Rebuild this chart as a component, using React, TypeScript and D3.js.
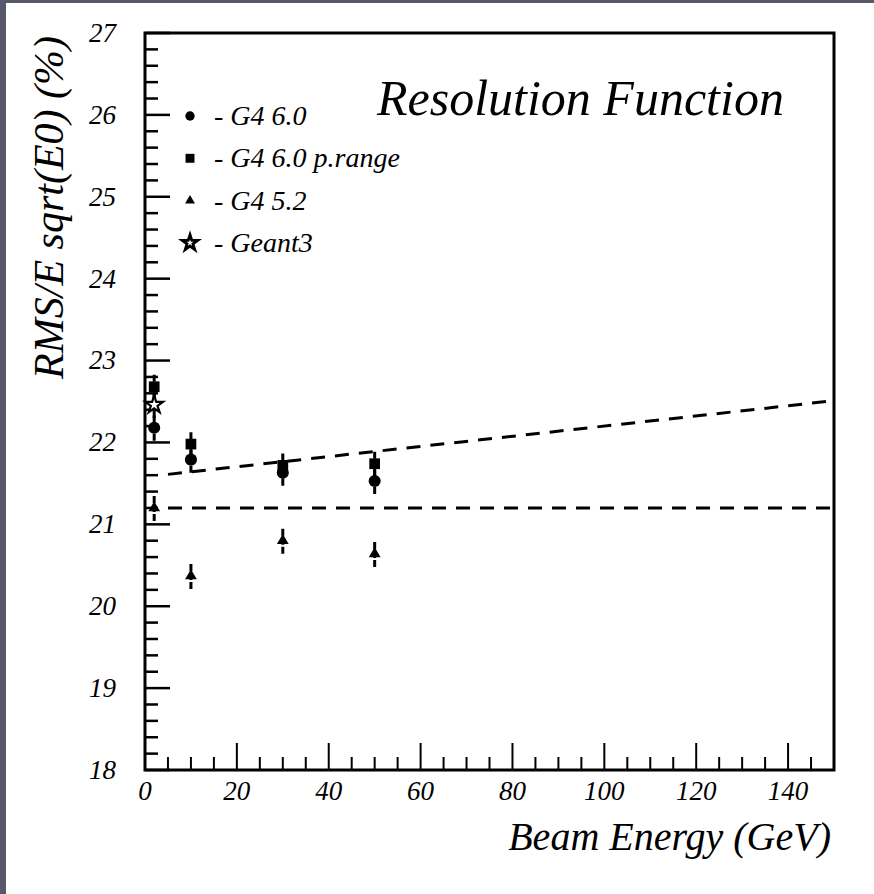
import React from "react";
import * as d3 from "d3";

const W = 874;
const H = 894;

// Data
const energies = [2, 10, 30, 50];
const g4v60 = [22.18, 21.79, 21.63, 21.53];
const g4v60pRange = [22.68, 21.98, 21.72, 21.74];
const g4v52 = [21.2, 20.37, 20.8, 20.64];
const geant3Energies = [2];
const geant3 = [22.46];
const errorSize = [0.16, 0.16, 0.16, 0.16];
const fitSlopedX = [5, 150];
const fitSlopedY = [21.61, 22.51];
const fitFlatX = [5, 150];
const fitFlatY = [21.2, 21.2];
const xTickLabels = [0, 20, 40, 60, 80, 100, 120, 140];
const yTickLabels = [18, 19, 20, 21, 22, 23, 24, 25, 26, 27];
const legendLabels = ["- G4 6.0", "- G4 6.0 p.range", "- G4 5.2", "- Geant3"];

const FONT = "serif";

export default function App() {
  const left = 145, right = 834, top = 33, bottom = 770;
  const x = d3.scaleLinear().domain([0, 150]).range([left, right]);
  const y = d3.scaleLinear().domain([18, 27]).range([bottom, top]);

  const xMinor = d3.range(0, 151, 5);
  const yMinor = d3.range(18, 27.001, 0.2);

  const circle = d3.symbol().type(d3.symbolCircle);
  const square = d3.symbol().type(d3.symbolSquare);
  const tri = d3.symbol().type(d3.symbolTriangle);
  const star = d3.symbol().type(d3.symbolStar);

  const series = [
    { vals: g4v60, sym: circle, size: 115 },
    { vals: g4v60pRange, sym: square, size: 115 },
    { vals: g4v52, sym: tri, size: 60 },
  ];

  const legendSyms = [
    { sym: circle, size: 70, fill: "#000" },
    { sym: square, size: 80, fill: "#000" },
    { sym: tri, size: 42, fill: "#000" },
    { sym: star, size: 75, fill: "#fff" },
  ];

  const slopedPath = d3.line<number>()
    .x((_, i) => x(fitSlopedX[i]))
    .y((d) => y(d))(fitSlopedY);
  const flatPath = d3.line<number>()
    .x((_, i) => x(fitFlatX[i]))
    .y((d) => y(d))(fitFlatY);

  const txt = { fontFamily: FONT, fontStyle: "italic" as const };

  return (
    <svg width={W} height={H} style={{ position: "absolute", left: 0, top: 0, display: "block", background: "#fff" }}>
      <rect x={0} y={0} width={W} height={H} fill="#fff" />
      <rect x={0} y={0} width={6} height={H} fill="#575869" />
      <rect x={0} y={0} width={W} height={3} fill="#575869" />

      {/* frame */}
      <rect x={left} y={top} width={right - left} height={bottom - top} fill="none" stroke="#000" strokeWidth={3} />

      {/* y ticks */}
      {yMinor.map((v, i) => {
        const major = Math.abs(v - Math.round(v)) < 1e-6;
        return (
          <line key={"yt" + i} x1={left} x2={left + (major ? 25 : 13)} y1={y(v)} y2={y(v)} stroke="#000" strokeWidth={2.5} />
        );
      })}
      {/* x ticks */}
      {xMinor.map((v, i) => {
        const major = v % 20 === 0;
        return (
          <line key={"xt" + i} x1={x(v)} x2={x(v)} y1={bottom} y2={bottom - (major ? 27 : 13)} stroke="#000" strokeWidth={2} />
        );
      })}

      {yTickLabels.map((v) => (
        <text key={"yl" + v} x={left - 29} y={y(v)} dy="0.33em" textAnchor="end" style={{ ...txt, fontSize: 27 }}>
          {v}
        </text>
      ))}
      {xTickLabels.map((v) => (
        <text key={"xl" + v} x={x(v)} y={800} textAnchor="middle" style={{ ...txt, fontSize: 27 }}>
          {v}
        </text>
      ))}

      {/* axis titles */}
      <text x={831} y={850} textAnchor="end" style={{ ...txt, fontSize: 40 }}>
        Beam Energy (GeV)
      </text>
      <text transform="translate(63,36) rotate(-90)" textAnchor="end" style={{ ...txt, fontSize: 42 }}>
        RMS/E sqrt(E0) (%)
      </text>

      <text x={377} y={115} style={{ ...txt, fontSize: 50 }}>
        Resolution Function
      </text>

      {/* fit lines */}
      <path d={slopedPath || ""} fill="none" stroke="#000" strokeWidth={3} strokeDasharray="14,10" />
      <path d={flatPath || ""} fill="none" stroke="#000" strokeWidth={3} strokeDasharray="14,10" />

      {/* error bars */}
      {series.map((s, si) =>
        energies.map((e, i) => (
          <line key={"eb" + si + "-" + i} x1={x(e)} x2={x(e)} y1={y(s.vals[i] - errorSize[i])} y2={y(s.vals[i] + errorSize[i])} stroke="#000" strokeWidth={3} strokeDasharray="7,2" />
        ))
      )}
      {geant3Energies.map((e, i) => (
        <line key={"ebg" + i} x1={x(e)} x2={x(e)} y1={y(geant3[i] - errorSize[i])} y2={y(geant3[i] + errorSize[i])} stroke="#000" strokeWidth={3} strokeDasharray="7,2" />
      ))}

      {/* markers */}
      {series.map((s, si) =>
        energies.map((e, i) => (
          <path key={"m" + si + "-" + i} d={s.sym.size(s.size)() || ""} transform={`translate(${x(e)},${y(s.vals[i])})`} fill="#000" />
        ))
      )}
      {geant3Energies.map((e, i) => (
        <path key={"st" + i} d={star.size(95)() || ""} transform={`translate(${x(e)},${y(geant3[i])})`} fill="#fff" stroke="#000" strokeWidth={2.2} />
      ))}

      {/* legend */}
      {legendLabels.map((lab, i) => {
        const cy = 116 + i * 42.3;
        const ls = legendSyms[i];
        return (
          <g key={"lg" + i}>
            <path d={ls.sym.size(ls.size)() || ""} transform={`translate(190,${cy})`} fill={ls.fill} stroke={i === 3 ? "#000" : "none"} strokeWidth={2.8} />
            <text x={214} y={cy + 9} style={{ ...txt, fontSize: 28 }}>
              {lab}
            </text>
          </g>
        );
      })}
    </svg>
  );
}
